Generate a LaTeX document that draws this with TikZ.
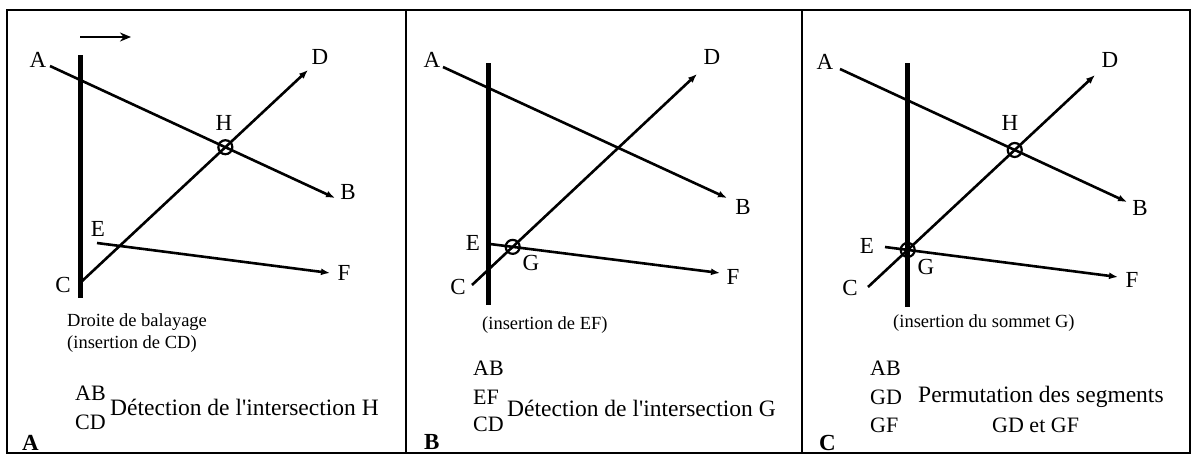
\documentclass[tikz,border=0pt]{standalone}
\usepackage{fontspec}
\setmainfont{Liberation Serif}
\usetikzlibrary{arrows.meta,positioning}

\begin{document}
\begin{tikzpicture}[
    x=1pt, y=-1pt,
    seg/.style={line width=2.6pt, -{Latex[length=9pt,width=7pt]}},
    sweep/.style={line width=5pt},
    cross/.style={draw, circle, line width=2.2pt, minimum size=14pt, inner sep=0pt},
    pt/.style={font=\fontsize{23}{27}\selectfont, inner sep=0pt},
    caption/.style={font=\fontsize{18.5}{22}\selectfont, anchor=west, align=left, inner sep=0pt},
    order/.style={font=\fontsize{22}{26}\selectfont, anchor=west, inner sep=0pt},
    comment/.style={font=\fontsize{23.5}{28}\selectfont, anchor=west, inner sep=0pt},
    panel/.style={font=\fontsize{23}{27}\selectfont\bfseries, anchor=west, inner sep=0pt}
]
\useasboundingbox (0,0) rectangle (1193,456);

% frame and panels
\draw[line width=1.8pt] (7,10) rectangle (1190,453);
\draw[line width=1.8pt] (406,10) -- (406,453);
\draw[line width=1.8pt] (802,10) -- (802,453);

% panel A
\begin{scope}
\coordinate (aA) at (50,66);   \coordinate (aB) at (335,198);
\coordinate (aC) at (80,283);  \coordinate (aD) at (308,70);
\coordinate (aE) at (97,243);  \coordinate (aF) at (330,273);
\coordinate (aS1) at (80,55);  \coordinate (aS2) at (80,298);
\coordinate (aM1) at (80,37);  \coordinate (aM2) at (131,37);
\draw[sweep] (aS1) -- (aS2);
\draw[line width=2.2pt, -{Stealth[length=11pt,width=9pt]}] (aM1) -- (aM2);
\draw[seg] (aA) -- (aB);
\draw[seg] (aC) -- (aD);
\draw[seg] (aE) -- (aF);
\node[cross] (aH) at (intersection of aA--aB and aC--aD) {};
\node[pt] (laA) at (38,60) {A};
\node[pt] (laB) at (348,192) {B};
\node[pt] (laC) at (63,285) {C};
\node[pt] (laD) at (320,57) {D};
\node[pt] (laE) at (98,229) {E};
\node[pt] (laF) at (344,273) {F};
\node[pt] (laH) at (224,123) {H};
\node[caption] (capA) at (67,333) {Droite de balayage\\(insertion de CD)};
\node[order] (oA1) at (75,393) {AB};
\node[order] (oA2) at (75,422) {CD};
\node[comment] (cA) at (110,407) {Détection de l\textquotesingle intersection H};
\node[panel] (pA) at (22,443) {A};
\end{scope}

% panel B
\begin{scope}[shift={(395,0)}]
\coordinate (bA) at (48,67);   \coordinate (bB) at (332,198);
\coordinate (bC) at (77,285);  \coordinate (bD) at (302,74);
\coordinate (bE) at (95,244);  \coordinate (bF) at (325,273);
\coordinate (bS1) at (93,63);  \coordinate (bS2) at (93,305);
\draw[sweep] (bS1) -- (bS2);
\draw[seg] (bA) -- (bB);
\draw[seg] (bC) -- (bD);
\draw[seg] (bE) -- (bF);
\node[cross] (bG) at (intersection of bC--bD and bE--bF) {};
\node[pt] (lbA) at (37,60) {A};
\node[pt] (lbB) at (348,207) {B};
\node[pt] (lbC) at (63,287) {C};
\node[pt] (lbD) at (317,57) {D};
\node[pt] (lbE) at (78,243) {E};
\node[pt] (lbF) at (338,277) {F};
\node[pt] (lbG) at (136,263) {G};
\node[caption] (capB) at (87,325) {(insertion de EF)};
\node[order] (oB1) at (78,368) {AB};
\node[order] (oB2) at (78,397) {EF};
\node[order] (oB3) at (78,424) {CD};
\node[comment] (cB) at (112,408) {Détection de l\textquotesingle intersection G};
\node[panel] (pB) at (29,442) {B};
\end{scope}

% panel C
\begin{scope}[shift={(790,0)}]
\coordinate (cA) at (50,69);   \coordinate (cB) at (337,202);
\coordinate (cC) at (78,287);  \coordinate (cD) at (305,75);
\coordinate (cE) at (95,247);  \coordinate (cF) at (328,277);
\coordinate (cS1) at (117,63); \coordinate (cS2) at (117,307);
\draw[sweep] (cS1) -- (cS2);
\draw[seg] (cA) -- (cB);
\draw[seg] (cC) -- (cD);
\draw[seg] (cE) -- (cF);
\node[cross] (cH) at (intersection of cA--cB and cC--cD) {};
\node[cross] (cG) at (intersection of cC--cD and cE--cF) {};
\node[pt] (lcA) at (35,62) {A};
\node[pt] (lcB) at (350,208) {B};
\node[pt] (lcC) at (60,288) {C};
\node[pt] (lcD) at (320,60) {D};
\node[pt] (lcE) at (77,246) {E};
\node[pt] (lcF) at (342,280) {F};
\node[pt] (lcG) at (136,267) {G};
\node[pt] (lcH) at (220,123) {H};
\node[caption] (capC) at (103,323) {(insertion du sommet G)};
\node[order] (oC1) at (80,368) {AB};
\node[order] (oC2) at (80,397) {GD};
\node[order] (oC3) at (80,425) {GF};
\node[comment] (cC1) at (128,397) {Permutation des segments};
\node[order] (cC2) at (202,425) {GD et GF};
\node[panel] (pC) at (29,443) {C};
\end{scope}
\end{tikzpicture}
\end{document}
